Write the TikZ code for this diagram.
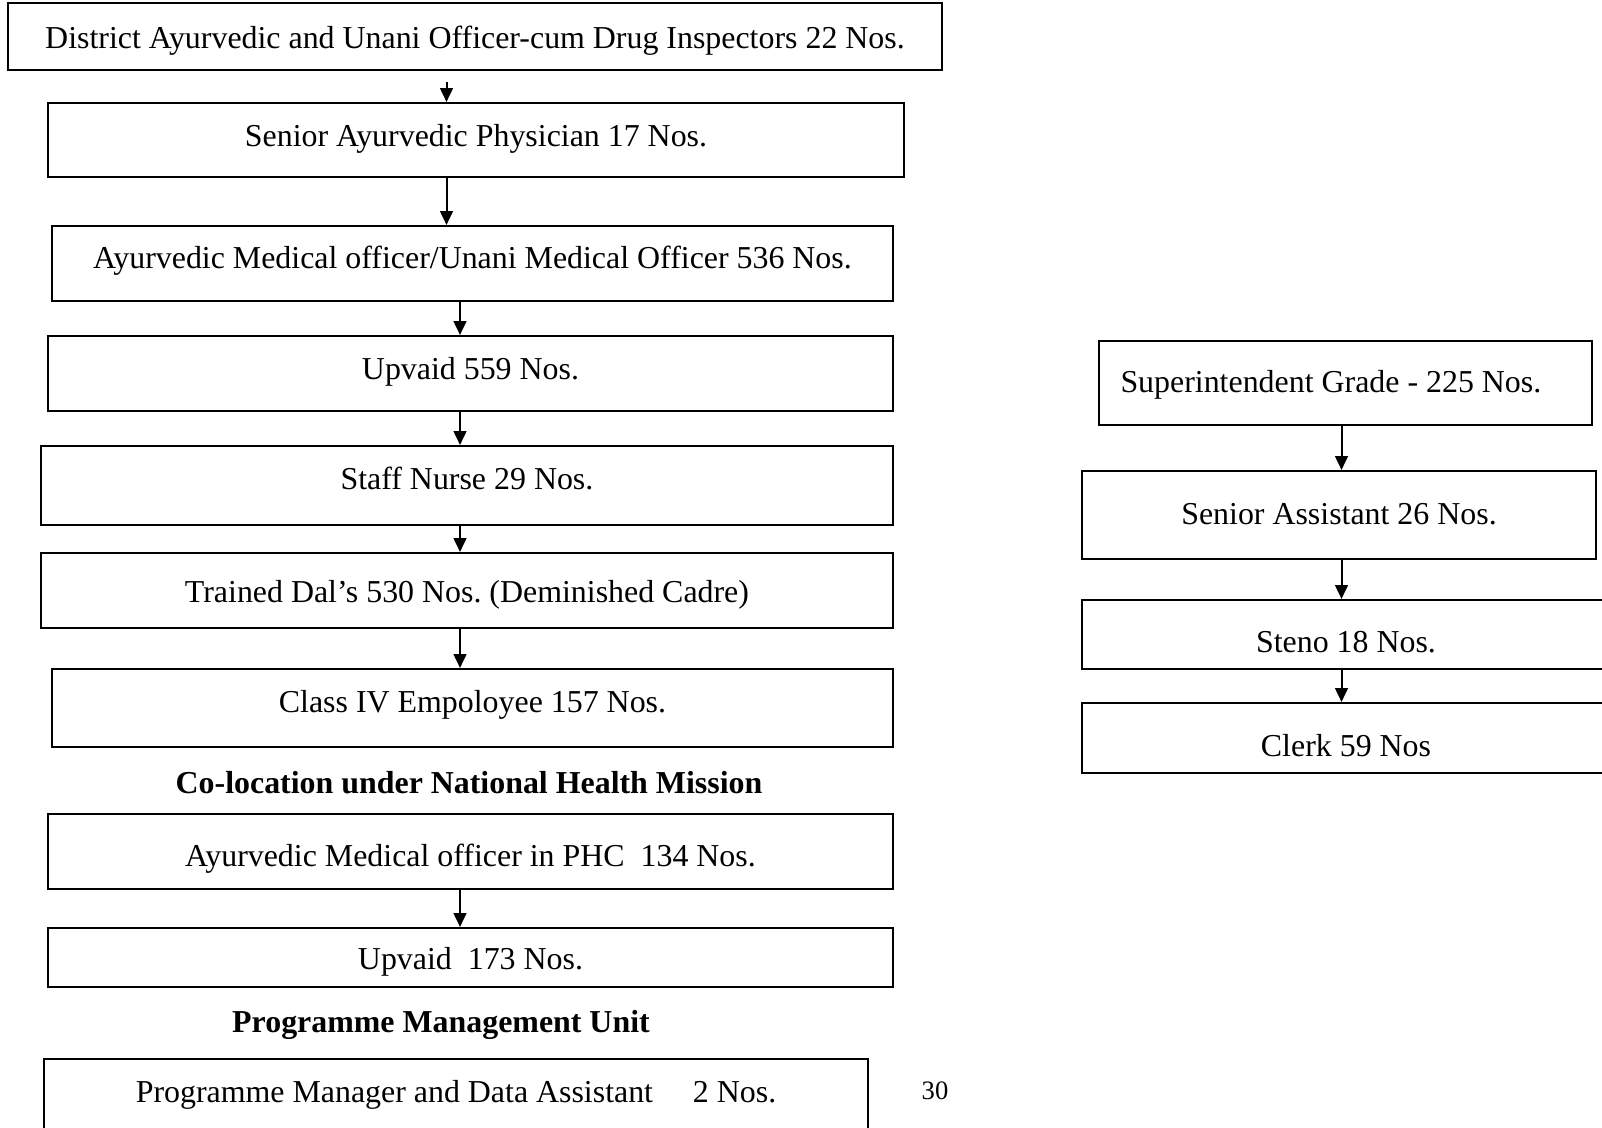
\documentclass[tikz,border=0pt]{standalone}
\usepackage{fontspec}
\setmainfont{Liberation Serif}
\usetikzlibrary{arrows.meta}
\newcommand{\pxu}{0.3762pt}
\frenchspacing

\begin{document}
\begin{tikzpicture}[x=\pxu,y=-\pxu,
 box/.style={draw,line width=0.8pt,inner sep=0pt,font=\fontsize{12}{14}\selectfont,
 text height=11.7pt,text depth=3pt},
 flow/.style={-{Triangle[length=5.2pt,width=4.8pt]},line width=0.75pt},
 head/.style={font=\fontsize{12}{14}\selectfont\bfseries}]
\useasboundingbox (0,0) rectangle (1602,1127);
\node[box,minimum width=934*\pxu,minimum height=67*\pxu] (dao) at (475,36.5)
 {District Ayurvedic and Unani Officer-cum Drug Inspectors 22 Nos.};
\node[box,minimum width=856*\pxu,minimum height=74*\pxu,text depth=6.8pt] (sap) at (476,140)
 {Senior Ayurvedic Physician 17 Nos.};
\node[box,minimum width=841*\pxu,minimum height=75*\pxu,text depth=8.2pt] (amo) at (472.5,263.5)
 {Ayurvedic Medical officer/Unani Medical Officer 536 Nos.};
\node[box,minimum width=845*\pxu,minimum height=75*\pxu,text depth=7.2pt] (upv) at (470.5,373.5)
 {Upvaid 559 Nos.};
\node[box,minimum width=852*\pxu,minimum height=79*\pxu,text depth=8.6pt] (snu) at (467,485.5)
 {Staff Nurse 29 Nos.};
\node[box,minimum width=852*\pxu,minimum height=75*\pxu] (tdl) at (467,590.5)
 {Trained Dal’s 530 Nos. (Deminished Cadre)};
\node[box,minimum width=841*\pxu,minimum height=78*\pxu,text depth=8.2pt] (civ) at (472.5,708)
 {Class IV Empoloyee 157 Nos.};
\node[head] (nhm) at (469,783) {Co-location under National Health Mission};
\node[box,minimum width=845*\pxu,minimum height=75*\pxu,text height=14.3pt] (phc) at (470.5,851.5)
 {Ayurvedic Medical officer in PHC\ \ 134 Nos.};
\node[box,minimum width=845*\pxu,minimum height=59*\pxu] (upvn) at (470.5,957.5)
 {Upvaid\ \ 173 Nos.};
\node[head] (pmu) at (441,1025) {Programme Management Unit};
\node[box,minimum width=824*\pxu,minimum height=90*\pxu,text depth=12.8pt] (pmd) at (456,1104)
 {Programme Manager and Data Assistant \quad 2 Nos.};
\node[font=\fontsize{10}{12}\selectfont] (pgno) at (935,1091) {30};
\node[box,minimum width=493*\pxu,minimum height=84*\pxu,text depth=4.5pt] (sup) at (1345.5,383)
 {Superintendent Grade - 225 Nos.\hspace*{11pt}};
\node[box,minimum width=514*\pxu,minimum height=88*\pxu,text depth=4.5pt] (sas) at (1339,515)
 {Senior Assistant 26 Nos.};
\node[box,minimum width=528*\pxu,minimum height=69*\pxu,text height=16.5pt] (sten) at (1346,634.5)
 {Steno 18 Nos.};
\node[box,minimum width=528*\pxu,minimum height=70*\pxu,text height=16.9pt] (clk) at (1346,738)
 {Clerk 59 Nos};
\coordinate (axa) at (446.5,0);
\coordinate (axb) at (460,0);
\coordinate (axc) at (1341.5,0);
\draw[flow,shorten <=11*\pxu] (dao.south -| axa) -- (sap.north -| axa);
\draw[flow] (sap.south -| axa) -- (amo.north -| axa);
\foreach \a/\b in {amo/upv,upv/snu,snu/tdl,tdl/civ,phc/upvn} {
 \draw[flow] (\a.south -| axb) -- (\b.north -| axb);
}
\foreach \a/\b in {sup/sas,sas/sten,sten/clk} {
 \draw[flow] (\a.south -| axc) -- (\b.north -| axc);
}
\end{tikzpicture}
\end{document}
